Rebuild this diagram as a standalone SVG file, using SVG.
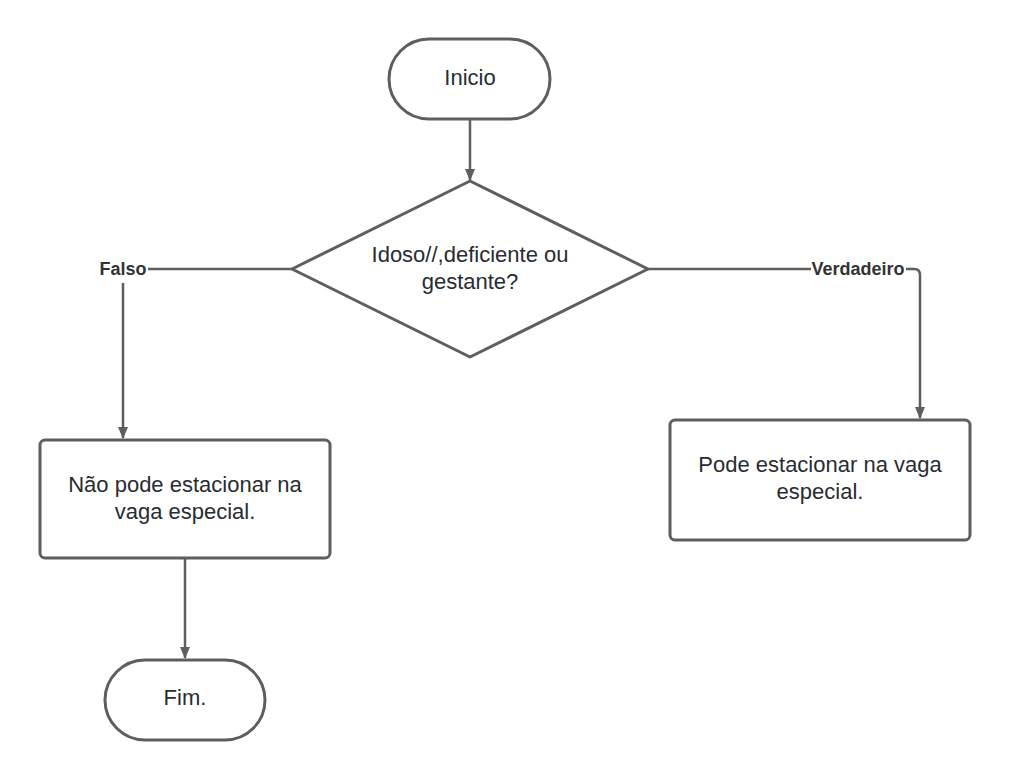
<svg xmlns="http://www.w3.org/2000/svg" width="1010" height="780" viewBox="0 0 1010 780">
<defs>
<style>
.shape{fill:#ffffff;stroke:#5e5e5e;stroke-width:3}
.line{fill:none;stroke:#5e5e5e;stroke-width:2.5}
.t{font-family:"Liberation Sans",Arial,sans-serif;font-size:22px;fill:#282c33;text-anchor:middle}
.lbl{font-family:"Liberation Sans",Arial,sans-serif;font-size:18px;font-weight:bold;fill:#333333;text-anchor:middle}
</style>
<marker id="arr" viewBox="0 0 12 12" refX="11" refY="6" markerWidth="12" markerHeight="12" markerUnits="userSpaceOnUse" orient="auto">
<path d="M0,1 L12,6 L0,11 Z" fill="#5e5e5e"/>
</marker>
</defs>
<rect width="1010" height="780" fill="#ffffff"/>
<g id="connectors">
<path class="line" d="M470,120 L470,180" marker-end="url(#arr)"/>
<path class="line" d="M292,269 L123,269 L123,438" marker-end="url(#arr)"/>
<path class="line" d="M648,269 L914,269 Q920,269 920,275 L920,418" marker-end="url(#arr)"/>
<path class="line" d="M185,559 L185,658" marker-end="url(#arr)"/>
<rect x="99" y="257" width="49" height="26" fill="#ffffff"/>
<text class="lbl" x="123" y="275">Falso</text>
<rect x="811" y="257" width="95" height="26" fill="#ffffff"/>
<text class="lbl" x="858" y="275">Verdadeiro</text>
</g>
<g id="inicio">
<rect class="shape" x="389" y="39" width="161" height="80" rx="40" ry="40"/>
<text class="t" x="470" y="85">Inicio</text>
</g>
<g id="decisao">
<path class="shape" d="M470,181 L648,269 L470,357 L292,269 Z" stroke-linejoin="round"/>
<text class="t" x="470" y="262">Idoso//,deficiente ou</text>
<text class="t" x="470" y="289">gestante?</text>
</g>
<g id="nao-pode">
<rect class="shape" x="40" y="440" width="290" height="118" rx="5" ry="5"/>
<text class="t" x="185" y="492">Não pode estacionar na</text>
<text class="t" x="185" y="519">vaga especial.</text>
</g>
<g id="pode">
<rect class="shape" x="670" y="420" width="300" height="120" rx="5" ry="5"/>
<text class="t" x="820" y="472">Pode estacionar na vaga</text>
<text class="t" x="820" y="499">especial.</text>
</g>
<g id="fim">
<rect class="shape" x="105" y="660" width="160" height="80" rx="40" ry="40"/>
<text class="t" x="185" y="705">Fim.</text>
</g>
</svg>
